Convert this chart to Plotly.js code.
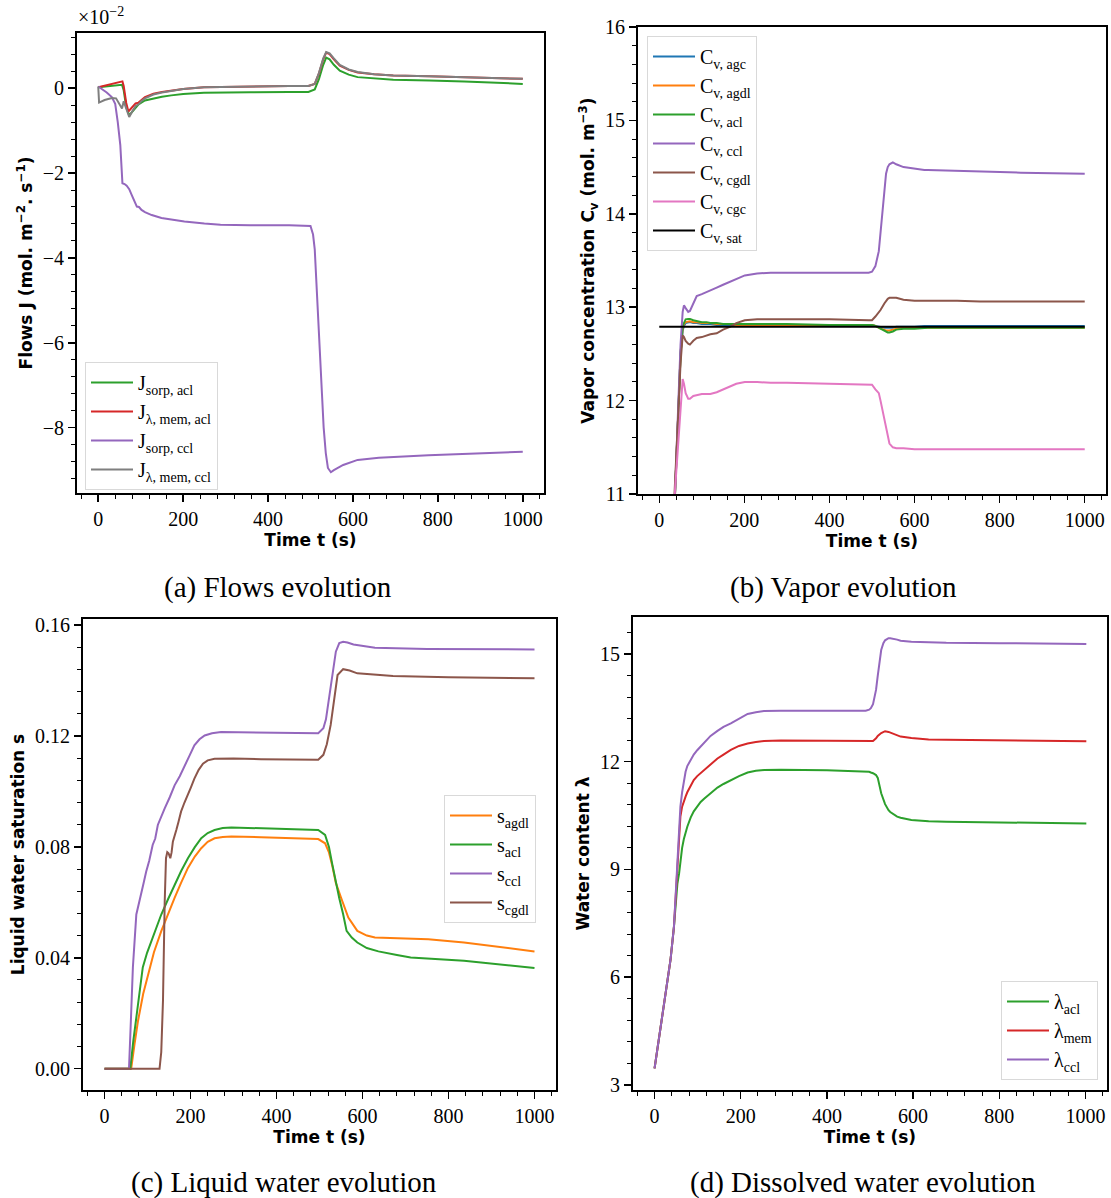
<!DOCTYPE html>
<html>
<head>
<meta charset="utf-8">
<script src="https://cdn.plot.ly/plotly-3.0.1.min.js"></script>
<style>html,body{margin:0;padding:0;background:#fff;}#chart{width:1111px;height:1198px;}</style>
</head>
<body>
<div id="chart"></div>
<script>
// ---------------- Panel (a): Flows (values in units of 1e-2 mol.m^-2.s^-1) ----------------
const tSorpAcl = [0, 30, 56, 60, 66, 73, 85, 95, 110, 130, 150, 172, 200, 249, 300, 358, 450, 495, 510, 520, 530, 537, 545, 555, 569, 590, 611, 650, 695, 780, 862, 1000];
const jSorpAcl = [0.02, 0.05, 0.08, -0.05, -0.45, -0.64, -0.5, -0.38, -0.29, -0.24, -0.2, -0.17, -0.14, -0.11, -0.1, -0.094, -0.09, -0.09, -0.03, 0.22, 0.55, 0.72, 0.68, 0.55, 0.41, 0.32, 0.26, 0.23, 0.2, 0.18, 0.16, 0.1];

const tLamMemAcl = [0, 30, 57, 60, 66, 71, 80, 88, 95, 102, 110, 120, 130, 150, 172, 200, 249, 300, 358, 450, 495, 510, 520, 530, 537, 545, 555, 569, 590, 611, 650, 695, 780, 862, 1000];
const jLamMemAcl = [0.02, 0.09, 0.16, 0.05, -0.35, -0.55, -0.45, -0.36, -0.34, -0.27, -0.21, -0.17, -0.13, -0.09, -0.06, -0.02, 0.02, 0.03, 0.04, 0.05, 0.05, 0.1, 0.35, 0.68, 0.84, 0.8, 0.68, 0.53, 0.43, 0.37, 0.33, 0.3, 0.28, 0.26, 0.22];

const tSorpCcl = [0, 20, 32, 40, 46, 52, 57, 62, 67, 73, 79, 85, 91, 96, 102, 110, 126, 149, 175, 203, 250, 288, 358, 450, 500, 506, 510, 514, 518, 522, 527, 531, 536, 541, 548, 555, 577, 611, 661, 778, 1000];
const jSorpCcl = [0.04, -0.1, -0.21, -0.37, -0.8, -1.34, -2.24, -2.26, -2.3, -2.38, -2.52, -2.65, -2.79, -2.8, -2.87, -2.92, -2.99, -3.06, -3.1, -3.14, -3.19, -3.22, -3.23, -3.23, -3.25, -3.45, -3.8, -4.5, -5.3, -6.2, -7.2, -8.0, -8.6, -8.95, -9.05, -9.0, -8.88, -8.76, -8.71, -8.65, -8.57];

const tLamMemCcl = [0, 2, 15, 32, 42, 48, 56, 60, 66, 73, 80, 88, 95, 102, 110, 120, 130, 150, 172, 200, 249, 300, 358, 450, 495, 510, 520, 530, 537, 545, 555, 569, 590, 611, 650, 695, 780, 862, 1000];
const jLamMemCcl = [0.04, -0.34, -0.28, -0.23, -0.24, -0.33, -0.48, -0.31, -0.5, -0.68, -0.55, -0.42, -0.38, -0.3, -0.24, -0.19, -0.15, -0.1, -0.06, -0.02, 0.02, 0.03, 0.04, 0.05, 0.05, 0.1, 0.36, 0.7, 0.85, 0.82, 0.7, 0.55, 0.44, 0.38, 0.33, 0.3, 0.28, 0.26, 0.22];

// ---------------- Panel (b): Vapor concentration (mol.m^-3) ----------------
const tVap = [0, 37, 45, 50, 55, 58, 62, 68, 72, 80, 88, 100, 111, 120, 135, 150, 166, 181, 201, 230, 262, 300, 400, 492, 500, 508, 516, 520, 529, 533, 537, 541, 549, 557, 574, 600, 623, 631, 700, 754, 850, 1000];
const cvAgc  = [8.6, 11.0, 11.9, 12.5, 12.75, 12.8, 12.83, 12.84, 12.84, 12.83, 12.83, 12.82, 12.82, 12.82, 12.81, 12.81, 12.81, 12.81, 12.81, 12.81, 12.81, 12.81, 12.81, 12.81, 12.81, 12.8, 12.79, 12.79, 12.78, 12.78, 12.78, 12.78, 12.78, 12.79, 12.79, 12.79, 12.8, 12.8, 12.8, 12.8, 12.8, 12.8];
const cvAgdl = [8.6, 11.0, 11.9, 12.5, 12.78, 12.82, 12.84, 12.85, 12.85, 12.84, 12.84, 12.83, 12.83, 12.83, 12.82, 12.82, 12.82, 12.81, 12.81, 12.81, 12.81, 12.81, 12.81, 12.81, 12.81, 12.8, 12.78, 12.77, 12.76, 12.75, 12.75, 12.75, 12.76, 12.77, 12.78, 12.78, 12.78, 12.78, 12.78, 12.78, 12.78, 12.78];
const cvAcl  = [8.6, 11.0, 11.9, 12.5, 12.8, 12.84, 12.87, 12.875, 12.875, 12.86, 12.85, 12.84, 12.84, 12.83, 12.83, 12.82, 12.82, 12.82, 12.82, 12.82, 12.82, 12.82, 12.81, 12.81, 12.81, 12.8, 12.78, 12.77, 12.75, 12.74, 12.73, 12.73, 12.74, 12.76, 12.77, 12.77, 12.78, 12.78, 12.78, 12.78, 12.78, 12.78];
const cvCcl  = [7.3, 11.0, 12.0, 12.6, 12.95, 13.02, 12.99, 12.95, 12.96, 13.05, 13.12, 13.14, 13.16, 13.18, 13.21, 13.24, 13.27, 13.3, 13.34, 13.36, 13.37, 13.37, 13.37, 13.37, 13.38, 13.44, 13.6, 13.79, 14.2, 14.43, 14.5, 14.53, 14.55, 14.53, 14.5, 14.48, 14.47, 14.47, 14.46, 14.45, 14.44, 14.43];
const cvCgdl = [7.5, 11.0, 11.9, 12.4, 12.7, 12.68, 12.64, 12.61, 12.6, 12.64, 12.67, 12.68, 12.7, 12.71, 12.72, 12.76, 12.79, 12.83, 12.86, 12.87, 12.87, 12.87, 12.87, 12.86, 12.86, 12.9, 12.94, 12.97, 13.04, 13.07, 13.09, 13.1, 13.1, 13.1, 13.08, 13.07, 13.07, 13.07, 13.07, 13.06, 13.06, 13.06];
const cvCgc  = [8.6, 11.0, 11.6, 11.95, 12.23, 12.18, 12.08, 12.02, 12.02, 12.05, 12.06, 12.07, 12.07, 12.07, 12.09, 12.12, 12.15, 12.18, 12.2, 12.2, 12.19, 12.19, 12.18, 12.17, 12.17, 12.12, 12.08, 12.0, 11.79, 11.7, 11.6, 11.54, 11.5, 11.49, 11.49, 11.48, 11.48, 11.48, 11.48, 11.48, 11.48, 11.48];
const tSat = [0, 1000];
const cvSat = [12.79, 12.79];

// ---------------- Panel (c): Liquid water saturation ----------------
const tSagdl = [0, 62, 70, 78, 90, 101, 115, 132, 148, 163, 178, 194, 210, 225, 240, 256, 275, 295, 364, 450, 497, 513, 522, 530, 538, 550, 567, 588, 610, 629, 680, 753, 836, 920, 1000];
const sAgdl  = [0, 0, 0.009, 0.0173, 0.027, 0.0341, 0.042, 0.0496, 0.056, 0.0616, 0.067, 0.0724, 0.0765, 0.0795, 0.0818, 0.0831, 0.0836, 0.0837, 0.0835, 0.0832, 0.0828, 0.0813, 0.078, 0.073, 0.067, 0.0617, 0.0545, 0.0497, 0.048, 0.0473, 0.047, 0.0467, 0.0455, 0.044, 0.0423];
const tSacl  = [0, 60, 67, 74, 82, 89, 99, 109, 120, 132, 148, 163, 178, 194, 210, 225, 240, 256, 275, 295, 364, 450, 497, 513, 522, 530, 538, 546, 555, 563, 575, 588, 610, 637, 680, 712, 836, 920, 1000];
const sAcl   = [0, 0, 0.01, 0.0185, 0.028, 0.0365, 0.0418, 0.046, 0.051, 0.0556, 0.0612, 0.0664, 0.0712, 0.0759, 0.0799, 0.0831, 0.085, 0.0861, 0.0868, 0.087, 0.0867, 0.0864, 0.0861, 0.0843, 0.08, 0.0735, 0.067, 0.0615, 0.0557, 0.0497, 0.0473, 0.0455, 0.0435, 0.0423, 0.041, 0.0401, 0.0389, 0.0377, 0.0363];
const tSccl  = [0, 57, 62, 66, 74, 80, 85, 91, 97, 104, 112, 118, 124, 132, 140, 152, 163, 175, 186, 198, 209, 221, 233, 250, 271, 364, 450, 497, 509, 515, 521, 530, 538, 546, 555, 565, 579, 629, 750, 1000];
const sCcl   = [0, 0, 0.02, 0.0365, 0.0556, 0.06, 0.0628, 0.067, 0.0711, 0.075, 0.0807, 0.083, 0.0879, 0.091, 0.0939, 0.098, 0.1022, 0.1055, 0.1094, 0.113, 0.1166, 0.1188, 0.1202, 0.121, 0.1214, 0.1213, 0.1211, 0.121, 0.1228, 0.126, 0.1324, 0.142, 0.1504, 0.1535, 0.154, 0.1537, 0.153, 0.1518, 0.1514, 0.1512];
const tScgdl = [0, 128, 132, 136, 140, 143, 146, 149, 153, 156, 159, 163, 167, 172, 178, 186, 194, 201, 209, 219, 229, 240, 256, 300, 364, 450, 497, 509, 517, 526, 534, 542, 555, 570, 588, 630, 671, 800, 1000];
const sCgdl  = [0, 0, 0.006, 0.0245, 0.06, 0.0759, 0.0781, 0.0777, 0.0759, 0.078, 0.0819, 0.0845, 0.0861, 0.089, 0.0927, 0.096, 0.0987, 0.1015, 0.1046, 0.1078, 0.11, 0.1112, 0.1118, 0.1119, 0.1116, 0.1115, 0.1114, 0.1132, 0.117, 0.124, 0.134, 0.142, 0.1441, 0.1436, 0.1426, 0.142, 0.1416, 0.1412, 0.1408];

// ---------------- Panel (d): Dissolved water content ----------------
const tLam  = [0, 22, 37, 45, 53, 57, 60, 64, 68, 72, 76, 84, 91, 99, 107, 115, 130, 146, 160, 177, 196, 216, 235, 254, 293, 400, 490, 498, 502, 507, 514, 518, 526, 531, 535, 543, 547, 563, 571, 596, 636, 677, 800, 1002];
const lamAcl = [3.46, 5.18, 6.48, 7.4, 8.6, 8.89, 9.26, 9.6, 9.85, 10.02, 10.19, 10.45, 10.62, 10.75, 10.88, 10.97, 11.12, 11.28, 11.38, 11.49, 11.6, 11.7, 11.75, 11.77, 11.78, 11.76, 11.74, 11.72, 11.7, 11.68, 11.63, 11.55, 11.12, 10.92, 10.82, 10.65, 10.6, 10.47, 10.44, 10.38, 10.34, 10.33, 10.31, 10.28];
const lamMem = [3.46, 5.18, 6.48, 7.4, 9.1, 9.82, 10.47, 10.75, 10.92, 11.03, 11.15, 11.35, 11.49, 11.6, 11.68, 11.77, 11.93, 12.09, 12.2, 12.33, 12.44, 12.51, 12.55, 12.58, 12.59, 12.58, 12.57, 12.56, 12.57, 12.58, 12.65, 12.72, 12.8, 12.84, 12.85, 12.83, 12.81, 12.74, 12.7, 12.66, 12.62, 12.61, 12.59, 12.57];
const lamCcl = [3.46, 5.18, 6.48, 7.4, 9.3, 10.3, 10.75, 11.15, 11.49, 11.72, 11.88, 12.05, 12.2, 12.32, 12.42, 12.55, 12.72, 12.86, 12.97, 13.07, 13.2, 13.33, 13.38, 13.41, 13.42, 13.42, 13.42, 13.45, 13.49, 13.6, 14.0, 14.4, 15.11, 15.3, 15.38, 15.44, 15.44, 15.4, 15.37, 15.34, 15.32, 15.31, 15.3, 15.28];

// ---------------- styling helpers ----------------
const SERIF = 'Liberation Serif';
const SANS = 'DejaVu Sans';
const C = {blue:'#1f77b4', orange:'#ff7f0e', green:'#2ca02c', red:'#d62728', purple:'#9467bd', brown:'#8c564b', pink:'#e377c2', grey:'#7f7f7f', black:'#000000'};

function line(x, y, name, color, xa, ya, leg) {
  return {x:x, y:y, name:name, type:'scatter', mode:'lines', line:{color:color, width:2},
    xaxis:xa, yaxis:ya, legend:leg};
}

function xax(domain, anchor) {
  return {domain:domain, anchor:anchor, range:[-50,1050], tick0:0, dtick:200,
    ticks:'outside', ticklen:7, tickwidth:1.5, tickcolor:'black',
    showline:true, linewidth:2, linecolor:'black', mirror:true, showgrid:false, zeroline:false,
    tickfont:{family:SERIF, size:20, color:'black'},
    minor:{tick0:0, dtick:40, ticks:'outside', ticklen:4, tickwidth:1, tickcolor:'black', showgrid:false},
    title:{text:'Time t (s)', font:{family:SANS, size:17, color:'black', weight:'bold'}, standoff:1},
    automargin:false};
}
function yax(domain, anchor, range, dtick, minorDtick, title, fmt) {
  const a = {domain:domain, anchor:anchor, range:range, tick0:0, dtick:dtick,
    ticks:'outside', ticklen:7, tickwidth:1.5, tickcolor:'black',
    showline:true, linewidth:2, linecolor:'black', mirror:true, showgrid:false, zeroline:false,
    tickfont:{family:SERIF, size:20, color:'black'},
    minor:{tick0:0, dtick:minorDtick, ticks:'outside', ticklen:4, tickwidth:1, tickcolor:'black', showgrid:false},
    title:{text:title, font:{family:SANS, size:17, color:'black', weight:'bold'}, standoff:6},
    automargin:false};
  if (fmt) a.tickformat = fmt;
  return a;
}
function legendBox(x, y, xanchor, yanchor) {
  return {x:x, y:y, xanchor:xanchor, yanchor:yanchor, xref:'paper', yref:'paper',
    bgcolor:'rgba(255,255,255,0.85)', bordercolor:'#d9d9d9', borderwidth:1,
    font:{family:SERIF, size:20, color:'black'}, itemwidth:42, tracegroupgap:0};
}

const traces = [
  line(tSorpAcl, jSorpAcl, 'J<sub>sorp, acl</sub>', C.green, 'x', 'y', 'legend'),
  line(tLamMemAcl, jLamMemAcl, 'J<sub>λ, mem, acl</sub>', C.red, 'x', 'y', 'legend'),
  line(tSorpCcl, jSorpCcl, 'J<sub>sorp, ccl</sub>', C.purple, 'x', 'y', 'legend'),
  line(tLamMemCcl, jLamMemCcl, 'J<sub>λ, mem, ccl</sub>', C.grey, 'x', 'y', 'legend'),

  line(tVap, cvAgc, 'C<sub>v, agc</sub>', C.blue, 'x2', 'y2', 'legend2'),
  line(tVap, cvAgdl, 'C<sub>v, agdl</sub>', C.orange, 'x2', 'y2', 'legend2'),
  line(tVap, cvAcl, 'C<sub>v, acl</sub>', C.green, 'x2', 'y2', 'legend2'),
  line(tVap, cvCcl, 'C<sub>v, ccl</sub>', C.purple, 'x2', 'y2', 'legend2'),
  line(tVap, cvCgdl, 'C<sub>v, cgdl</sub>', C.brown, 'x2', 'y2', 'legend2'),
  line(tVap, cvCgc, 'C<sub>v, cgc</sub>', C.pink, 'x2', 'y2', 'legend2'),
  line(tSat, cvSat, 'C<sub>v, sat</sub>', C.black, 'x2', 'y2', 'legend2'),

  line(tSagdl, sAgdl, 's<sub>agdl</sub>', C.orange, 'x3', 'y3', 'legend3'),
  line(tSacl, sAcl, 's<sub>acl</sub>', C.green, 'x3', 'y3', 'legend3'),
  line(tSccl, sCcl, 's<sub>ccl</sub>', C.purple, 'x3', 'y3', 'legend3'),
  line(tScgdl, sCgdl, 's<sub>cgdl</sub>', C.brown, 'x3', 'y3', 'legend3'),

  line(tLam, lamAcl, 'λ<sub>acl</sub>', C.green, 'x4', 'y4', 'legend4'),
  line(tLam, lamMem, 'λ<sub>mem</sub>', C.red, 'x4', 'y4', 'legend4'),
  line(tLam, lamCcl, 'λ<sub>ccl</sub>', C.purple, 'x4', 'y4', 'legend4')
];

const W = 1111, H = 1198;
const px = v => v / W;
const py = v => 1 - v / H;

const layout = {
  width:W, height:H, margin:{l:0, r:0, t:0, b:0},
  paper_bgcolor:'white', plot_bgcolor:'white', showlegend:true,
  font:{family:SERIF, color:'black'},
  xaxis:  xax([px(77), px(544)], 'y'),
  yaxis:  yax([py(493), py(33)], 'x', [-9.54, 1.3], 2, 0.4, 'Flows J (mol. m<sup>−2</sup>. s<sup>−1</sup>)'),
  xaxis2: xax([px(638), px(1106)], 'y2'),
  yaxis2: yax([py(494), py(27)], 'x2', [11, 16], 1, 0.2, 'Vapor concentration C<sub>v</sub> (mol. m<sup>−3</sup>)'),
  xaxis3: xax([px(83), px(556)], 'y3'),
  yaxis3: yax([py(1090), py(619)], 'x3', [-0.0077, 0.1622], 0.04, 0.008, 'Liquid water saturation s', '.2f'),
  xaxis4: xax([px(633), px(1107)], 'y4'),
  yaxis4: yax([py(1090), py(617)], 'x4', [2.86, 16.03], 3, 0.6, 'Water content λ'),
  legend:  legendBox(px(85), py(362), 'left', 'top'),
  legend2: legendBox(px(647), py(36), 'left', 'top'),
  legend3: legendBox(px(444), py(795), 'left', 'top'),
  legend4: legendBox(px(1098), py(1080), 'right', 'bottom'),
  annotations: [
    {text:'×10<sup>−2</sup>', xref:'paper', yref:'paper', x:px(76), y:py(30), xanchor:'left', yanchor:'bottom', showarrow:false, font:{family:SERIF, size:20, color:'black'}},
    {text:'(a) Flows evolution', xref:'paper', yref:'paper', x:px(278), y:py(587), xanchor:'center', yanchor:'middle', showarrow:false, font:{family:SERIF, size:29, color:'black'}},
    {text:'(b) Vapor evolution', xref:'paper', yref:'paper', x:px(843), y:py(587), xanchor:'center', yanchor:'middle', showarrow:false, font:{family:SERIF, size:29, color:'black'}},
    {text:'(c) Liquid water evolution', xref:'paper', yref:'paper', x:px(284), y:py(1182), xanchor:'center', yanchor:'middle', showarrow:false, font:{family:SERIF, size:29, color:'black'}},
    {text:'(d) Dissolved water evolution', xref:'paper', yref:'paper', x:px(863), y:py(1182), xanchor:'center', yanchor:'middle', showarrow:false, font:{family:SERIF, size:29, color:'black'}}
  ]
};

Plotly.newPlot('chart', traces, layout, {staticPlot:true, displayModeBar:false});
</script>
</body>
</html>
